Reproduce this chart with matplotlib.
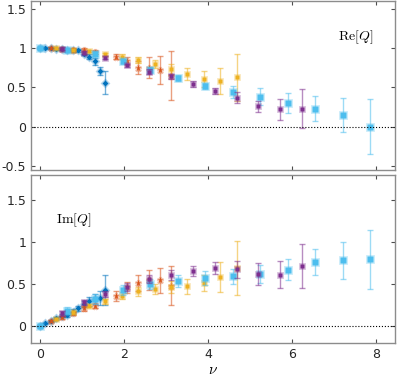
import numpy as np
import matplotlib.pyplot as plt

plt.rcParams['mathtext.fontset'] = 'cm'
plt.rcParams['font.family'] = ['DejaVu Sans']

# dark blue, diamonds
x_db = [0, 0.13, 0.26, 0.39, 0.52, 0.65, 0.78, 0.91, 1.04, 1.17, 1.30, 1.43, 1.56]
re_db = [1.0, 1.0, 1.0, 0.99, 0.99, 0.98, 0.97, 0.97, 0.93, 0.89, 0.83, 0.71, 0.56]
re_db_err = [0.01, 0.01, 0.01, 0.01, 0.01, 0.01, 0.015, 0.02, 0.02, 0.03, 0.04, 0.05, 0.15]
im_db = [0.0, 0.03, 0.06, 0.09, 0.12, 0.13, 0.17, 0.21, 0.26, 0.29, 0.32, 0.33, 0.43]
im_db_err = [0.01, 0.01, 0.015, 0.015, 0.02, 0.02, 0.03, 0.03, 0.04, 0.05, 0.06, 0.08, 0.18]

# orange-red, stars
x_or = [0.26, 0.52, 0.78, 1.04, 1.30, 1.82, 2.08, 2.34, 2.60, 2.86, 3.12]
re_or = [1.0, 0.99, 0.98, 0.98, 0.95, 0.89, 0.83, 0.75, 0.75, 0.72, 0.65]
re_or_err = [0.01, 0.01, 0.015, 0.02, 0.02, 0.03, 0.05, 0.08, 0.13, 0.18, 0.31]
im_or = [0.06, 0.10, 0.15, 0.21, 0.24, 0.36, 0.46, 0.51, 0.55, 0.54, 0.48]
im_or_err = [0.01, 0.015, 0.02, 0.03, 0.03, 0.06, 0.065, 0.1, 0.12, 0.15, 0.23]

# yellow, squares
x_ye = [0.39, 0.78, 1.17, 1.56, 1.95, 2.34, 2.73, 3.12, 3.51, 3.90, 4.29, 4.68]
re_ye = [1.0, 0.98, 0.96, 0.92, 0.89, 0.85, 0.80, 0.73, 0.67, 0.61, 0.58, 0.63]
re_ye_err = [0.01, 0.01, 0.015, 0.02, 0.03, 0.04, 0.05, 0.07, 0.08, 0.1, 0.17, 0.3]
im_ye = [0.08, 0.16, 0.24, 0.29, 0.36, 0.41, 0.44, 0.46, 0.47, 0.51, 0.58, 0.69]
im_ye_err = [0.01, 0.02, 0.02, 0.03, 0.04, 0.05, 0.06, 0.07, 0.09, 0.1, 0.18, 0.32]

# light blue, squares
x_lb = [0, 0.655, 1.31, 1.965, 2.62, 3.275, 3.93, 4.585, 5.24, 5.895, 6.55, 7.205, 7.86]
re_lb = [1.0, 0.97, 0.93, 0.83, 0.72, 0.62, 0.52, 0.44, 0.38, 0.30, 0.23, 0.15, 0.0]
re_lb_err = [0.01, 0.02, 0.03, 0.03, 0.04, 0.04, 0.04, 0.08, 0.11, 0.13, 0.16, 0.22, 0.35]
im_lb = [0.0, 0.18, 0.32, 0.43, 0.50, 0.535, 0.57, 0.59, 0.615, 0.67, 0.76, 0.78, 0.79]
im_lb_err = [0.02, 0.04, 0.065, 0.06, 0.06, 0.07, 0.08, 0.09, 0.11, 0.13, 0.16, 0.22, 0.35]

# purple
x_pu = [0.52, 1.04, 1.56, 2.08, 2.60, 3.12, 3.64, 4.16, 4.68, 5.20, 5.72, 6.24]
re_pu = [0.99, 0.94, 0.875, 0.78, 0.70, 0.64, 0.54, 0.45, 0.37, 0.26, 0.22, 0.23]
re_pu_err = [0.02, 0.02, 0.02, 0.02, 0.03, 0.03, 0.04, 0.04, 0.07, 0.07, 0.13, 0.245]
im_pu = [0.15, 0.28, 0.38, 0.46, 0.56, 0.60, 0.65, 0.69, 0.675, 0.62, 0.61, 0.71]
im_pu_err = [0.03, 0.03, 0.04, 0.05, 0.05, 0.06, 0.06, 0.07, 0.1, 0.13, 0.16, 0.26]

series = [
    (x_db, re_db, re_db_err, im_db, im_db_err, '#0072BD', 'D', 3.0),
    (x_or, re_or, re_or_err, im_or, im_or_err, '#D95319', '*', 4.5),
    (x_ye, re_ye, re_ye_err, im_ye, im_ye_err, '#EDB120', 's', 3.0),
    (x_lb, re_lb, re_lb_err, im_lb, im_lb_err, '#4DBEEE', 's', 4.0),
    (x_pu, re_pu, re_pu_err, im_pu, im_pu_err, '#7E2F8E', 's', 2.5),
]

fig = plt.figure(figsize=(3.99, 3.77), dpi=100)
ax1 = fig.add_axes([0.078, 0.549, 0.912, 0.449])
ax2 = fig.add_axes([0.078, 0.091, 0.912, 0.446])

def draw(ax, part):
    for s in series:
        x, y, e = s[0], s[1 + 2*part], s[2 + 2*part]
        col, mk, ms = s[5], s[6], s[7]
        ax.errorbar(x, y, yerr=e, fmt='none', ecolor=col, alpha=0.55,
                    elinewidth=1.0, capsize=2, capthick=1.0)
        ax.plot(x, y, ls='none', marker=mk, ms=ms, color=col,
                mec=plt.matplotlib.colors.to_rgba(col, 0.3), mew=2.0)
    ax.axhline(0, color='k', ls=':', lw=0.8)
    ax.set_xlim(-0.21, 8.45)
    ax.set_xticks([0, 2, 4, 6, 8])
    ax.tick_params(direction='in', top=True, right=True, length=3,
                   color='0.3', labelsize=9, labelcolor='#262626')
    for sp in ax.spines.values():
        sp.set_color('0.55')
        sp.set_linewidth(1.0)

draw(ax1, 0)
ax1.set_ylim(-0.55, 1.6)
ax1.set_yticks([-0.5, 0, 0.5, 1, 1.5])
ax1.set_yticklabels(['-0.5', '0', '0.5', '1', '1.5'])
ax1.set_xticklabels([])
ax1.text(7.1, 1.14, r'$\mathrm{Re}[Q]$', fontsize=10, va='center', ha='left')

draw(ax2, 1)
ax2.set_ylim(-0.2, 1.8)
ax2.set_yticks([0, 0.5, 1, 1.5])
ax2.set_yticklabels(['0', '0.5', '1', '1.5'])
ax2.set_xticklabels(['0', '2', '4', '6', '8'])
ax2.text(0.38, 1.26, r'$\mathrm{Im}[Q]$', fontsize=10, va='center', ha='left')
ax2.set_xlabel(r'$\nu$', fontsize=11, labelpad=1)

fig.savefig('out.png', dpi=100)
